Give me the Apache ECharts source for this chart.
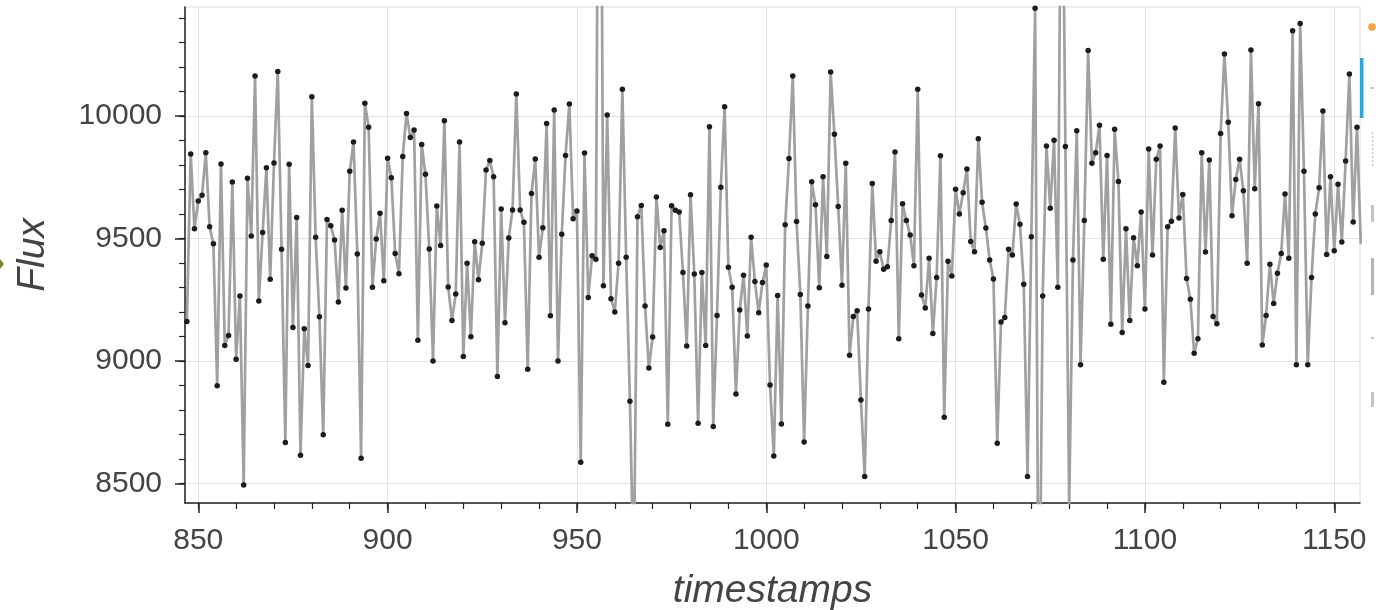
<!DOCTYPE html>
<html><head><meta charset="utf-8">
<script src="https://cdn.jsdelivr.net/npm/echarts@6/dist/echarts.min.js"></script>
<style>html,body{margin:0;padding:0;background:#fff;}#c{width:1376px;height:610px;}</style>
</head><body><div id="c"></div>
<script>
const timestamps = [
847,848,849,850,851,852,853,854,855,856,857,858,859,860,861,862,863,864,865,866,867,868,869,870,871,872,873,874,875,876,877,878,879,880,
881,882,883,884,885,886,887,888,889,890,891,892,893,894,895,896,897,898,899,900,901,902,903,904,905,906,907,908,909,910,
911,912,913,914,915,916,917,918,919,920,921,922,923,924,925,926,927,928,929,930,931,932,933,934,935,936,937,938,939,940,
941,942,943,944,945,946,947,948,949,950,951,952,953,954,955,956,957,958,959,960,961,962,963,964,965,966,967,968,969,970,
971,972,973,974,975,976,977,978,979,980,981,982,983,984,985,986,987,988,989,990,991,992,993,994,995,996,997,998,999,1000,
1001,1002,1003,1004,1005,1006,1007,1008,1009,1010,1011,1012,1013,1014,1015,1016,1017,1018,1019,1020,1021,1022,1023,1024,1025,1026,1027,1028,1029,1030,
1031,1032,1033,1034,1035,1036,1037,1038,1039,1040,1041,1042,1043,1044,1045,1046,1047,1048,1049,1050,1051,1052,1053,1054,1055,1056,1057,1058,1059,1060,
1061,1062,1063,1064,1065,1066,1067,1068,1069,1070,1071,1072,1073,1074,1075,1076,1077,1078,1079,1080,1081,1082,1083,1084,1085,1086,1087,1088,1089,1090,
1091,1092,1093,1094,1095,1096,1097,1098,1099,1100,1101,1102,1103,1104,1105,1106,1107,1108,1109,1110,1111,1112,1113,1114,1115,1116,1117,1118,1119,1120,
1121,1122,1123,1124,1125,1126,1127,1128,1129,1130,1131,1132,1133,1134,1135,1136,1137,1138,1139,1140,1141,1142,1143,1144,1145,1146,1147,1148,1149,1150,
1151,1152,1153,1154,1155,1156,1157
];
const flux = [
9161,9845,9540,9653,9676,9850,9548,9478,8899,9804,9063,9104,9731,9007,9265,8493,9746,9510,10163,9245,9524,9789,9333,9808,10182,9456,8667,9803,9137,9586,8615,9131,8981,10079,
9505,9180,8699,9577,9552,9494,9241,9615,9298,9774,9894,9437,8603,10052,9954,9301,9498,9603,9327,9827,9748,9439,9356,9835,10010,9912,9943,9084,9884,9762,
9457,9000,9633,9471,9981,9302,9165,9273,9894,9018,9399,9099,9487,9331,9480,9780,9818,9752,8936,9620,9156,9502,9616,10090,9616,9566,8966,9684,9824,9423,
9544,9969,9184,10024,9000,9517,9839,10049,9580,9612,8586,9849,9259,9429,9415,12400,9307,10004,9254,9200,9399,10109,9423,8835,8100,9589,9635,9224,8971,9098,
9669,9463,9532,8741,9634,9615,9608,9361,9061,9678,9355,8746,9361,9063,9956,8732,9186,9709,10038,9382,9301,8865,9208,9350,9102,9505,9324,9197,9320,9392,
8902,8612,9267,8743,9556,9826,10163,9569,9271,8669,9224,9732,9638,9299,9752,9426,10180,9925,9631,9309,9807,9023,9181,9205,8841,8528,9212,9724,9407,9446,
9374,9385,9573,9853,9091,9642,9573,9514,9389,10109,9269,9216,9419,9112,9341,9838,8770,9407,9347,9701,9600,9687,9784,9488,9446,9907,9648,9543,9412,9335,
8664,9159,9177,9456,9433,9641,9558,9313,8528,9507,10440,7600,9265,9878,9623,9901,9301,11500,9875,8415,9412,9940,8984,9573,10267,9807,9850,9962,9415,9839,
9150,9946,9733,9116,9540,9165,9503,9389,9608,9212,9865,9433,9823,9878,8913,9548,9570,9951,9584,9680,9337,9252,9031,9091,9850,9445,9820,9181,9152,9929,
10253,9974,9593,9741,9823,9695,9399,10269,9703,10050,9065,9186,9395,9235,9358,9439,9682,9419,10348,8984,10378,9774,8984,9341,9600,9707,10020,9435,9752,9450,
9721,9486,9816,10171,9567,9954,9478
];
const xMajorTicks = [850, 900, 950, 1000, 1050, 1100, 1150];
const xMinorTicks = [850,860,870,880,890,900,910,920,930,940,950,960,970,980,990,1000,1010,1020,1030,1040,1050,1060,1070,1080,1090,1100,1110,1120,1130,1140,1150];
const yMajorTicks = [8500, 9000, 9500, 10000];
const yMinorTicks = [8500,8600,8700,8800,8900,9000,9100,9200,9300,9400,9500,9600,9700,9800,9900,10000,10100,10200,10300,10400];
const xTitle = 'timestamps';
const yTitle = 'Flux';

const X_MIN = 846.5, X_MAX = 1156.8, Y_MIN = 8420, Y_MAX = 10445;
const FONT = "'Liberation Sans', Arial, sans-serif";
const AXIS_COLOR = '#222';
const TEXT_COLOR = '#444';
const GRID_COLOR = '#e4e4e4';
const plain = v => String(v);

const chart = echarts.init(document.getElementById('c'), null, {renderer: 'canvas'});
const points = timestamps.map((t, i) => [t, flux[i]]);

const option = {
  animation: false,
  backgroundColor: '#ffffff',
  grid: {left: 185, right: 16, top: 7, bottom: 107, show: true, borderColor: '#dedede', borderWidth: 1,
         backgroundColor: 'transparent', containLabel: false, outerBoundsMode: 'none'},
  xAxis: [
    {
      type: 'value', min: X_MIN, max: X_MAX, position: 'bottom',
      axisLine: {show: true, onZero: false, lineStyle: {color: AXIS_COLOR, width: 1.5}},
      axisTick: {show: true, length: 10, customValues: xMajorTicks, lineStyle: {color: AXIS_COLOR, width: 1.5}},
      axisLabel: {show: true, customValues: xMajorTicks, formatter: plain, margin: 23, fontSize: 30, color: TEXT_COLOR, fontFamily: FONT},
      splitLine: {show: true, lineStyle: {color: GRID_COLOR, width: 1}},
      name: xTitle, nameLocation: 'middle', nameGap: 69,
      nameTextStyle: {fontSize: 39, fontStyle: 'italic', color: TEXT_COLOR, fontFamily: FONT}
    },
    {
      type: 'value', min: X_MIN, max: X_MAX, position: 'bottom',
      axisLine: {show: false, onZero: false},
      axisTick: {show: true, length: 6, customValues: xMinorTicks, lineStyle: {color: AXIS_COLOR, width: 1.2}},
      axisLabel: {show: false}, splitLine: {show: false}
    }
  ],
  yAxis: [
    {
      type: 'value', min: Y_MIN, max: Y_MAX, position: 'left',
      axisLine: {show: true, onZero: false, lineStyle: {color: AXIS_COLOR, width: 1.5}},
      axisTick: {show: true, length: 10, customValues: yMajorTicks, lineStyle: {color: AXIS_COLOR, width: 1.5}},
      axisLabel: {show: true, customValues: yMajorTicks, formatter: plain, margin: 23, fontSize: 30, color: TEXT_COLOR, fontFamily: FONT},
      splitLine: {show: true, lineStyle: {color: GRID_COLOR, width: 1}},
      name: yTitle, nameLocation: 'middle', nameGap: 132,
      nameTextStyle: {fontSize: 39, fontStyle: 'italic', color: TEXT_COLOR, fontFamily: FONT}
    },
    {
      type: 'value', min: Y_MIN, max: Y_MAX, position: 'left',
      axisLine: {show: false, onZero: false},
      axisTick: {show: true, length: 6, customValues: yMinorTicks, lineStyle: {color: AXIS_COLOR, width: 1.2}},
      axisLabel: {show: false}, splitLine: {show: false}
    }
  ],
  series: [{
    type: 'line', xAxisIndex: 0, yAxisIndex: 0, data: points,
    symbol: 'circle', symbolSize: 5.5, showSymbol: true, showAllSymbol: true, clip: true,
    lineStyle: {color: '#a0a0a0', width: 2.7},
    itemStyle: {color: '#1c1c1c', borderWidth: 0},
    emphasis: {disabled: true}, z: 3
  }],
  graphic: [
    {type: 'circle', shape: {cx: 1372, cy: 27, r: 3.8}, style: {fill: '#f5a340'}, silent: true},
    {type: 'rect', shape: {x: 1360, y: 58, width: 3.5, height: 60}, style: {fill: '#27a9e1'}, silent: true},
    {type: 'rect', shape: {x: 1371, y: 87, width: 3, height: 2}, style: {fill: '#c4c4c4'}, silent: true},
    {type: 'line', shape: {x1: 1372.5, y1: 132, x2: 1372.5, y2: 168}, style: {stroke: '#c4c4c4', lineWidth: 1.5, lineDash: [2, 2]}, silent: true},
    {type: 'rect', shape: {x: 1371, y: 205, width: 3, height: 17}, style: {fill: '#c4c4c4'}, silent: true},
    {type: 'rect', shape: {x: 1371, y: 258, width: 3, height: 37}, style: {fill: '#b4b4b4'}, silent: true},
    {type: 'rect', shape: {x: 1371, y: 337, width: 3, height: 2}, style: {fill: '#c4c4c4'}, silent: true},
    {type: 'rect', shape: {x: 1371, y: 392, width: 3, height: 15}, style: {fill: '#c4c4c4'}, silent: true},
    {type: 'polygon', shape: {points: [[-4, 264], [0, 259], [4, 264], [0, 269]]}, style: {fill: '#6e8c1c'}, silent: true}
  ]
};
chart.setOption(option);
</script>
</body></html>
